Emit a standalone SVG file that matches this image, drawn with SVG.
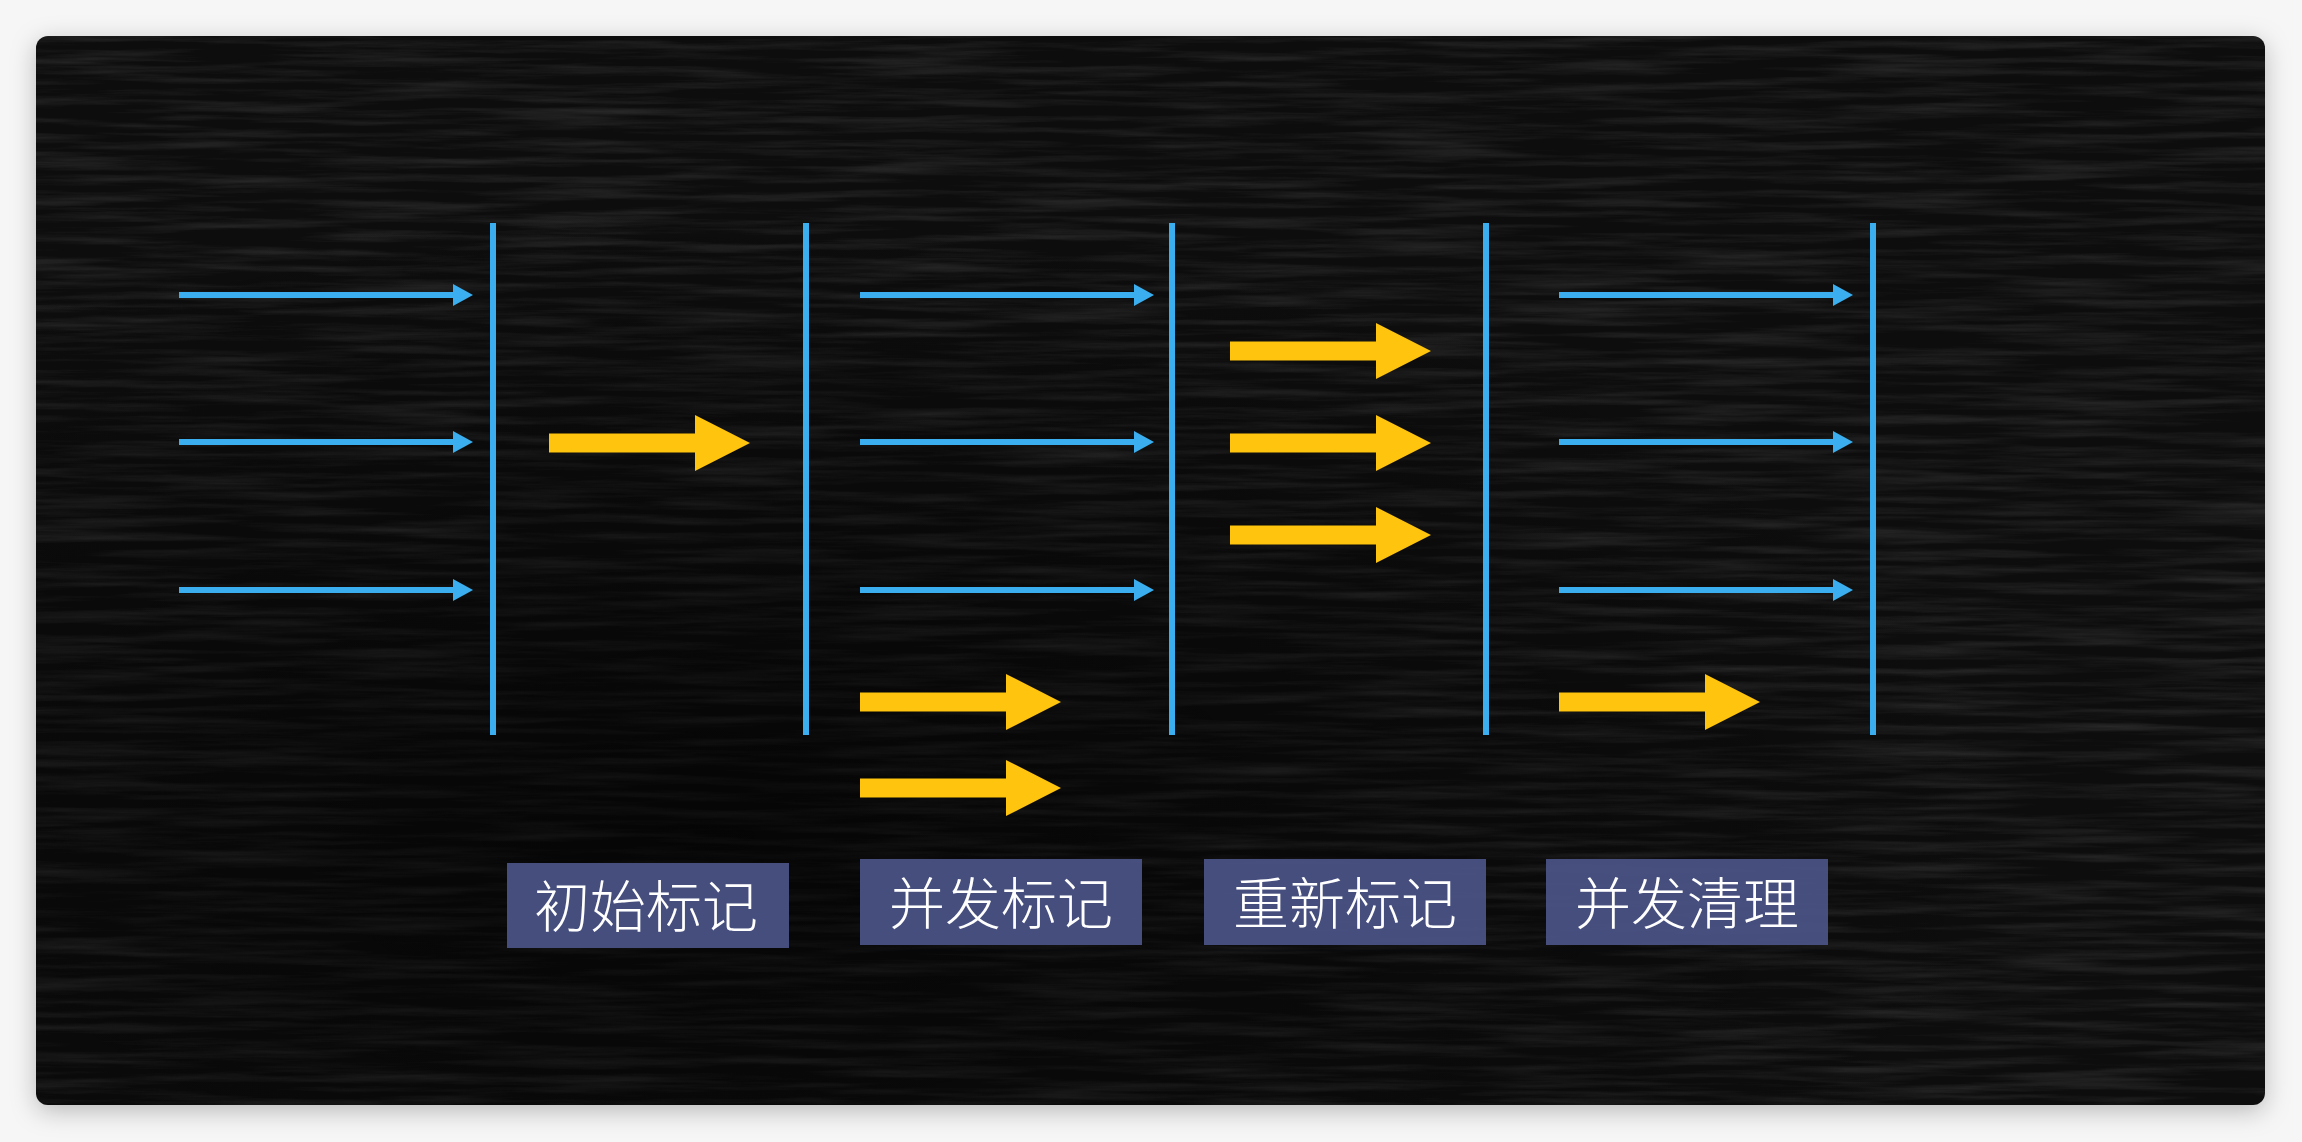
<svg xmlns="http://www.w3.org/2000/svg" width="2302" height="1142" viewBox="0 0 2302 1142">
  <defs>
    <style>
      .barrier { stroke: #3aaeee; stroke-width: 6; fill: none; }
      .thread { stroke: #3aaeee; stroke-width: 6; fill: none; marker-end: url(#blueHead); }
      .gc { fill: #ffc40d; }
      .label-box { fill: #4a5285; opacity: 0.95; }
      .label-text { fill: #ffffff; font-family: "Noto Sans CJK SC", "Noto Sans", sans-serif; font-size: 56px; font-weight: 300; text-anchor: middle; dominant-baseline: central; }
    </style>
    <marker id="blueHead" viewBox="0 0 20 22" refX="0" refY="11" markerWidth="20" markerHeight="22" markerUnits="userSpaceOnUse" orient="auto">
      <path d="M0,0 L20,11 L0,22 Z" fill="#3aaeee"/>
    </marker>
    <path id="yellowArrow" d="M0,-9.5 H146 V-28 L201,0 L146,28 V9.5 H0 Z"/>
    <filter id="shadow" x="-5%" y="-5%" width="110%" height="115%">
      <feDropShadow dx="0" dy="6" stdDeviation="12" flood-color="#000" flood-opacity="0.25"/>
    </filter>
    <filter id="chalk" x="0" y="0" width="100%" height="100%">
      <feTurbulence type="fractalNoise" baseFrequency="0.006 0.12" numOctaves="5" seed="7"/>
      <feColorMatrix type="matrix" values="0 0 0 0 1  0 0 0 0 1  0 0 0 0 1  0.7 0 0 0 -0.27"/>
    </filter>
    <radialGradient id="shade" cx="0.3" cy="0.75" r="0.6">
      <stop offset="0" stop-color="#000" stop-opacity="0.6"/>
      <stop offset="1" stop-color="#000" stop-opacity="0"/>
    </radialGradient>
    <clipPath id="cardClip">
      <rect x="36" y="36" width="2229" height="1069" rx="12"/>
    </clipPath>
  </defs>

  <rect x="0" y="0" width="2302" height="1142" fill="#f6f6f6"/>
  <g id="board">
    <rect x="36" y="36" width="2229" height="1069" rx="12" fill="#0b0b0b" filter="url(#shadow)"/>
    <g clip-path="url(#cardClip)">
      <rect x="36" y="36" width="2229" height="1069" filter="url(#chalk)" opacity="0.3"/>
      <rect x="36" y="36" width="2229" height="1069" fill="url(#shade)"/>
    </g>
  </g>

  <g id="barriers">
    <line id="barrier-1" class="barrier" x1="493" y1="223" x2="493" y2="735"/>
    <line id="barrier-2" class="barrier" x1="806" y1="223" x2="806" y2="735"/>
    <line id="barrier-3" class="barrier" x1="1172" y1="223" x2="1172" y2="735"/>
    <line id="barrier-4" class="barrier" x1="1486" y1="223" x2="1486" y2="735"/>
    <line id="barrier-5" class="barrier" x1="1873" y1="223" x2="1873" y2="735"/>
  </g>

  <g id="connectors">
    <line class="thread" x1="179" y1="295" x2="453" y2="295"/>
    <line class="thread" x1="179" y1="442" x2="453" y2="442"/>
    <line class="thread" x1="179" y1="590" x2="453" y2="590"/>

    <line class="thread" x1="860" y1="295" x2="1134" y2="295"/>
    <line class="thread" x1="860" y1="442" x2="1134" y2="442"/>
    <line class="thread" x1="860" y1="590" x2="1134" y2="590"/>

    <line class="thread" x1="1559" y1="295" x2="1833" y2="295"/>
    <line class="thread" x1="1559" y1="442" x2="1833" y2="442"/>
    <line class="thread" x1="1559" y1="590" x2="1833" y2="590"/>

    <use class="gc" href="#yellowArrow" x="549" y="443"/>
    <use class="gc" href="#yellowArrow" x="860" y="702"/>
    <use class="gc" href="#yellowArrow" x="860" y="788"/>
    <use class="gc" href="#yellowArrow" x="1230" y="351"/>
    <use class="gc" href="#yellowArrow" x="1230" y="443"/>
    <use class="gc" href="#yellowArrow" x="1230" y="535"/>
    <use class="gc" href="#yellowArrow" x="1559" y="702"/>
  </g>

  <g id="label-initial-mark">
    <rect class="label-box" x="507" y="863" width="282" height="85"/>
    <text class="label-text" x="646" y="902">初始标记</text>
  </g>
  <g id="label-concurrent-mark">
    <rect class="label-box" x="860" y="859" width="282" height="86"/>
    <text class="label-text" x="1001" y="899">并发标记</text>
  </g>
  <g id="label-remark">
    <rect class="label-box" x="1204" y="859" width="282" height="86"/>
    <text class="label-text" x="1345" y="899">重新标记</text>
  </g>
  <g id="label-concurrent-sweep">
    <rect class="label-box" x="1546" y="859" width="282" height="86"/>
    <text class="label-text" x="1687" y="899">并发清理</text>
  </g>
</svg>
